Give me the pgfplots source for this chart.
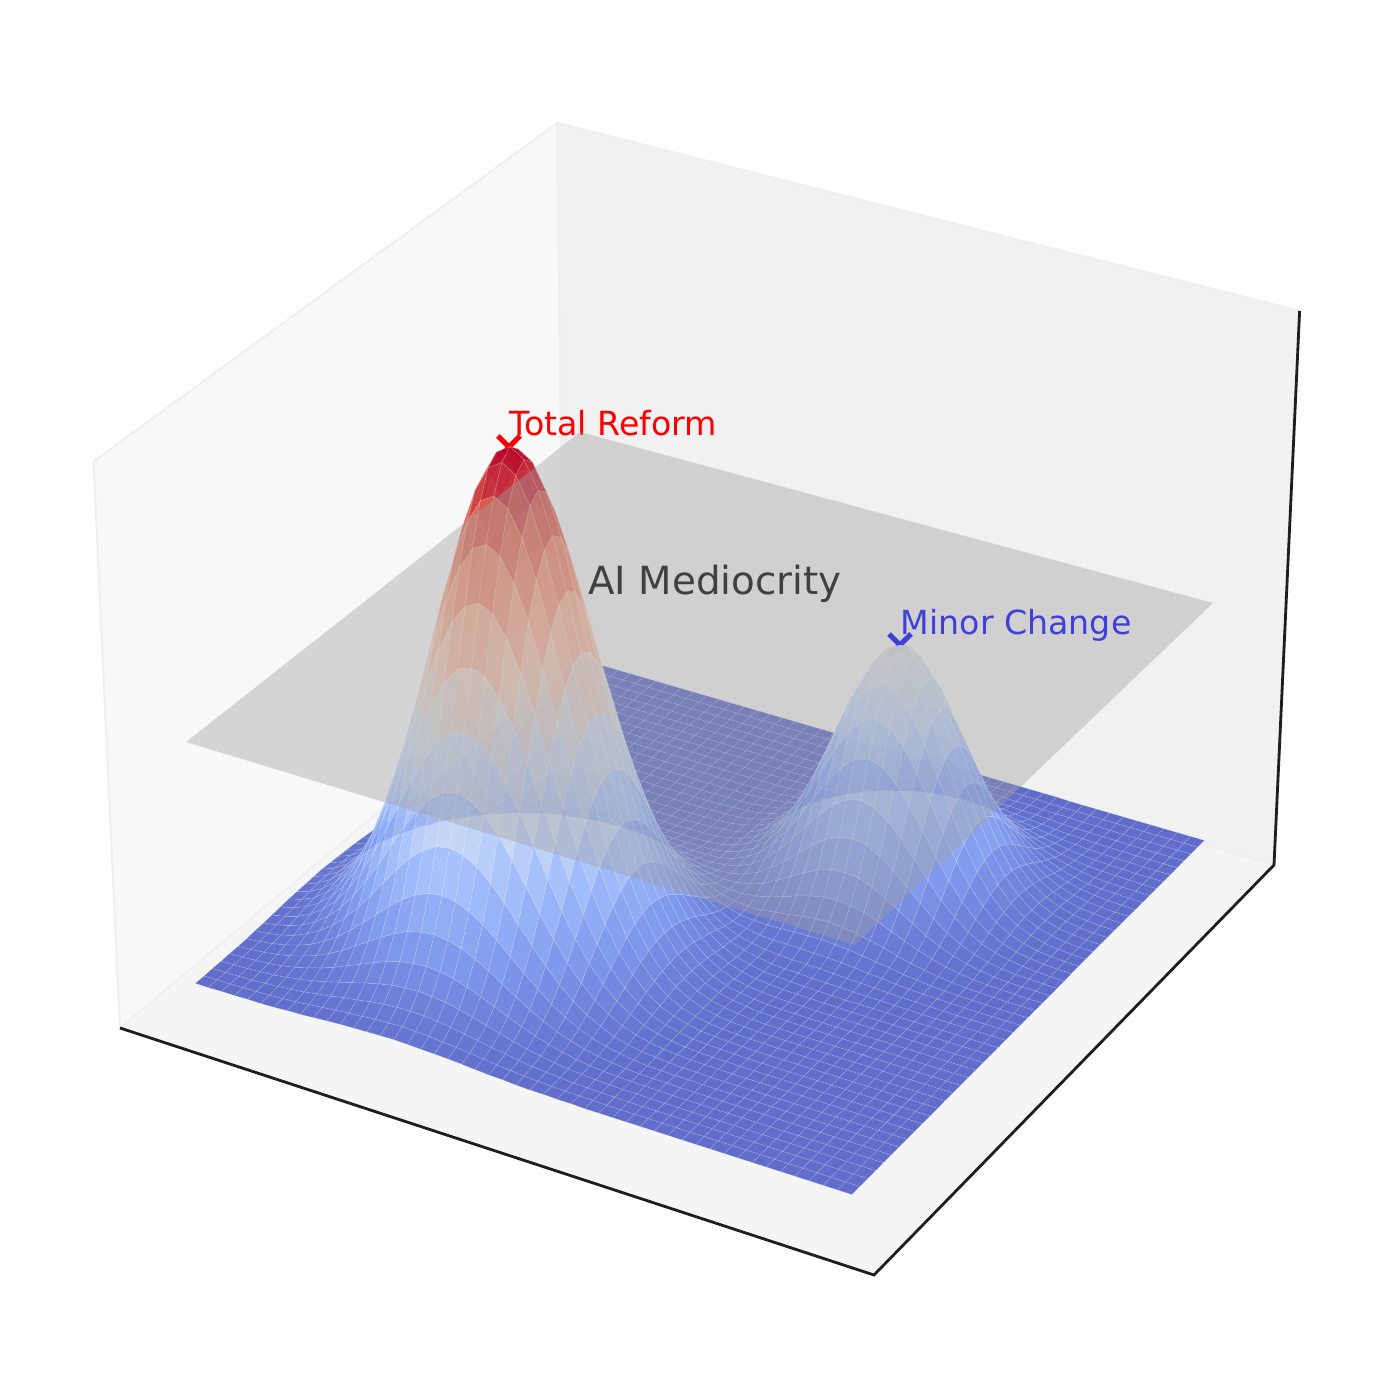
\documentclass[border=0pt]{standalone}
\usepackage{pgfplots}
\usepackage{fontspec}
\setmainfont{DejaVu Sans}
\pgfplotsset{compat=1.18}
\definecolor{paneL}{RGB}{248,248,248}
\definecolor{paneB}{RGB}{241,241,241}
\definecolor{paneF}{RGB}{245,245,245}
\definecolor{paneE}{RGB}{239,239,239}
\definecolor{axk}{RGB}{30,30,30}
\definecolor{plg}{RGB}{160,160,160}
\definecolor{bgc}{RGB}{254,254,254}
\begin{document}
\begin{tikzpicture}
\begin{axis}[
 scale only axis, width=689.5pt, height=690pt,
 xmin=0, xmax=1379, ymin=0, ymax=1380,
 axis line style={draw=none}, ticks=none, clip=false,
 colormap={cw}{rgb255=(59,76,192) rgb255=(98,130,234) rgb255=(141,176,254) rgb255=(192,212,245) rgb255=(221,221,221) rgb255=(245,196,173) rgb255=(244,154,123) rgb255=(222,96,77) rgb255=(180,4,38)},
 point meta min=0, point meta max=0.98,
 declare function={
  bx(\i)=.5193*(\i-24)/24;
  bz(\z)=.3893*(2*\z-1);
  dn(\a,\b,\c)=10-(.433*\a-.75*\b+.5*\c);
  px(\a,\b,\c)=708+7250*(.866*\a+.5*\b)/dn(\a,\b,\c);
  py(\a,\b,\c)=1380-(671-7250*(-.25*\a+.433*\b+.866*\c)/dn(\a,\b,\c));
 },
]
\addplot[draw=none,fill=bgc] coordinates {(0,0)(1379,0)(1379,1380)(0,1380)} -- cycle;
% panes (image pixel coordinates, y measured upward)
\addplot[fill=paneL,draw=paneE,line width=1pt] coordinates {(120,352)(563.5,722)(557.3,1257)(93.5,918.5)} -- cycle;
\addplot[fill=paneB,draw=paneE,line width=1pt] coordinates {(563.5,722)(1274,515)(1299.6,1069)(557.3,1257)} -- cycle;
\addplot[fill=paneF,draw=paneE,line width=1pt] coordinates {(120,352)(874,105)(1274,515)(563.5,722)} -- cycle;
\addplot[draw=axk,line width=1.4pt] coordinates {(120,352)(874,105)(1274,515)(1299.6,1069)};
% crosses and labels, under the surface
\addplot[red,line width=2.6pt] coordinates {(498,922)(520,944)};
\addplot[red,line width=2.6pt] coordinates {(498,944)(520,922)};
\addplot[blue,line width=2.6pt] coordinates {(889,724)(911,746)};
\addplot[blue,line width=2.6pt] coordinates {(889,746)(911,724)};
\addplot[draw=none] coordinates {(509,944)} node[anchor=base west,inner sep=0pt,text=red,font=\fontsize{16.6}{18}\selectfont]{Total Reform};
\addplot[draw=none] coordinates {(900.5,745)} node[anchor=base west,inner sep=0pt,text=blue,font=\fontsize{16.6}{18}\selectfont]{Minor Change};
\addplot[draw=none] coordinates {(588,785)} node[anchor=base west,inner sep=0pt,text=black,font=\fontsize{19.4}{21}\selectfont]{AI Mediocrity};
% surface: heights in thousandths; 49 rows from the back (y max) to the front, each written as 7 lines of 7 values, x from min to max
\addplot[surf,shader=faceted,faceted color=white,line width=.3pt,mesh/rows=49,mesh/cols=49,fill opacity=.8,draw opacity=.22,point meta=explicit]
 table[row sep=\\,header=false,
  x expr={px(bx(mod(\coordindex,49)),bx(48-floor((\coordindex+.5)/49)),bz(\thisrowno{0}/1000))},
  y expr={py(bx(mod(\coordindex,49)),bx(48-floor((\coordindex+.5)/49)),bz(\thisrowno{0}/1000))},
  meta expr={\thisrowno{0}/1000}] {
0\\0\\0\\0\\0\\0\\0\\
0\\0\\0\\0\\0\\0\\0\\
0\\0\\0\\0\\0\\0\\0\\
0\\0\\0\\0\\0\\0\\0\\
0\\1\\1\\1\\1\\1\\1\\
1\\1\\1\\0\\0\\0\\0\\
0\\0\\0\\0\\0\\0\\0\\
0\\0\\0\\0\\0\\0\\0\\
0\\0\\0\\0\\0\\0\\0\\
0\\0\\0\\0\\0\\0\\0\\
0\\0\\0\\0\\0\\1\\1\\
1\\1\\2\\2\\2\\2\\2\\
2\\2\\1\\1\\1\\1\\0\\
0\\0\\0\\0\\0\\0\\0\\
0\\0\\0\\0\\0\\0\\0\\
0\\0\\0\\0\\0\\0\\0\\
0\\0\\0\\0\\0\\0\\0\\
0\\0\\0\\0\\1\\1\\2\\
2\\3\\4\\4\\4\\5\\4\\
4\\4\\3\\2\\2\\1\\1\\
0\\0\\0\\0\\0\\0\\0\\
0\\0\\0\\0\\0\\0\\0\\
0\\0\\0\\0\\0\\0\\0\\
0\\0\\0\\0\\0\\0\\0\\
0\\0\\1\\1\\2\\2\\3\\
5\\6\\7\\8\\9\\9\\9\\
8\\7\\6\\5\\3\\2\\2\\
1\\1\\0\\0\\0\\0\\0\\
0\\0\\0\\0\\0\\0\\0\\
0\\0\\0\\0\\0\\0\\0\\
0\\0\\0\\0\\0\\0\\0\\
0\\1\\1\\2\\3\\4\\6\\
9\\11\\14\\16\\17\\17\\17\\
16\\14\\11\\9\\6\\4\\3\\
2\\1\\1\\0\\0\\0\\0\\
0\\0\\0\\0\\0\\0\\0\\
0\\0\\0\\0\\0\\0\\0\\
0\\0\\0\\0\\0\\0\\0\\
1\\1\\2\\3\\5\\8\\11\\
16\\20\\24\\28\\30\\31\\30\\
28\\24\\20\\16\\11\\8\\5\\
3\\2\\1\\1\\0\\0\\0\\
0\\0\\0\\0\\0\\0\\0\\
0\\0\\0\\0\\0\\0\\0\\
0\\0\\0\\0\\0\\0\\0\\
1\\2\\3\\6\\9\\14\\19\\
26\\34\\41\\47\\51\\53\\51\\
47\\41\\34\\26\\19\\14\\9\\
6\\3\\2\\1\\0\\0\\0\\
0\\0\\0\\0\\0\\0\\0\\
0\\0\\0\\0\\0\\0\\0\\
0\\0\\0\\0\\0\\0\\1\\
2\\3\\5\\9\\14\\22\\31\\
42\\54\\66\\76\\82\\85\\82\\
76\\66\\54\\42\\31\\22\\14\\
9\\5\\3\\2\\1\\0\\0\\
0\\0\\0\\0\\0\\0\\0\\
0\\0\\0\\0\\0\\0\\0\\
0\\0\\0\\0\\0\\1\\1\\
2\\4\\8\\14\\22\\33\\47\\
64\\82\\100\\115\\125\\128\\125\\
115\\100\\82\\64\\47\\33\\22\\
14\\8\\4\\2\\1\\1\\0\\
0\\0\\0\\0\\0\\0\\0\\
0\\0\\0\\0\\0\\0\\0\\
0\\0\\0\\0\\0\\1\\2\\
3\\6\\11\\19\\31\\47\\68\\
92\\118\\143\\165\\179\\184\\179\\
165\\143\\118\\92\\68\\47\\31\\
19\\11\\6\\3\\2\\1\\0\\
0\\0\\0\\0\\0\\0\\0\\
0\\0\\0\\0\\0\\0\\0\\
0\\0\\0\\0\\0\\1\\2\\
5\\9\\16\\26\\42\\64\\92\\
125\\160\\194\\223\\243\\250\\243\\
223\\194\\160\\125\\92\\64\\42\\
26\\16\\9\\5\\2\\1\\0\\
0\\0\\0\\0\\0\\0\\0\\
0\\0\\0\\0\\0\\0\\0\\
0\\0\\0\\0\\1\\1\\3\\
6\\11\\20\\34\\54\\82\\118\\
160\\206\\250\\287\\312\\321\\312\\
287\\250\\206\\160\\118\\82\\54\\
34\\20\\11\\6\\3\\1\\1\\
0\\0\\0\\0\\0\\0\\0\\
0\\0\\0\\0\\0\\0\\0\\
0\\0\\0\\0\\1\\2\\4\\
7\\14\\24\\41\\66\\100\\143\\
194\\250\\303\\348\\379\\389\\379\\
348\\303\\250\\194\\143\\100\\66\\
41\\24\\14\\7\\4\\2\\1\\
0\\0\\0\\0\\0\\0\\0\\
0\\0\\0\\0\\0\\1\\1\\
1\\1\\1\\1\\2\\2\\4\\
8\\16\\28\\47\\76\\115\\165\\
223\\287\\348\\400\\435\\447\\435\\
400\\348\\287\\223\\165\\115\\76\\
47\\28\\16\\8\\4\\2\\1\\
0\\0\\0\\0\\0\\0\\0\\
0\\1\\1\\1\\1\\1\\1\\
1\\1\\1\\1\\2\\3\\5\\
10\\18\\30\\51\\82\\125\\179\\
243\\312\\379\\435\\473\\486\\473\\
435\\379\\312\\243\\179\\125\\82\\
51\\30\\17\\9\\4\\2\\1\\
0\\0\\0\\0\\0\\0\\1\\
1\\1\\1\\2\\2\\2\\2\\
2\\2\\2\\2\\3\\4\\7\\
10\\18\\32\\54\\85\\128\\184\\
250\\321\\389\\447\\486\\500\\486\\
447\\389\\321\\250\\184\\128\\85\\
53\\31\\17\\9\\5\\2\\1\\
0\\0\\0\\0\\1\\1\\1\\
1\\2\\2\\3\\4\\4\\4\\
5\\5\\5\\4\\5\\6\\7\\
11\\19\\31\\52\\83\\126\\179\\
243\\312\\379\\435\\473\\486\\473\\
435\\379\\312\\243\\179\\125\\82\\
51\\30\\17\\9\\4\\2\\1\\
0\\0\\0\\1\\1\\1\\2\\
3\\4\\4\\5\\6\\7\\8\\
9\\9\\9\\8\\8\\8\\9\\
12\\20\\31\\49\\77\\116\\166\\
223\\287\\348\\400\\435\\447\\435\\
400\\348\\287\\223\\165\\115\\76\\
47\\28\\16\\8\\4\\2\\1\\
0\\0\\1\\1\\2\\2\\3\\
5\\6\\8\\10\\12\\13\\14\\
15\\16\\15\\14\\14\\14\\14\\
15\\20\\29\\44\\68\\102\\144\\
195\\250\\303\\348\\379\\389\\379\\
348\\303\\250\\194\\143\\100\\66\\
41\\24\\14\\7\\4\\2\\1\\
0\\1\\1\\2\\3\\4\\6\\
8\\11\\14\\17\\20\\22\\25\\
26\\27\\26\\25\\23\\21\\20\\
20\\22\\28\\40\\58\\85\\120\\
161\\207\\250\\287\\312\\321\\312\\
287\\250\\206\\160\\118\\82\\54\\
34\\20\\11\\6\\3\\1\\1\\
1\\1\\2\\3\\5\\7\\10\\
13\\18\\22\\28\\32\\37\\41\\
43\\44\\43\\41\\37\\33\\30\\
27\\27\\29\\36\\49\\69\\95\\
127\\161\\195\\223\\243\\250\\243\\
223\\194\\160\\125\\92\\64\\42\\
26\\16\\9\\5\\2\\1\\0\\
1\\2\\3\\5\\7\\11\\16\\
21\\28\\36\\44\\52\\59\\65\\
68\\70\\68\\65\\59\\53\\46\\
39\\34\\32\\35\\42\\54\\73\\
95\\120\\144\\166\\179\\184\\179\\
165\\143\\118\\92\\68\\47\\31\\
19\\11\\6\\3\\2\\1\\0\\
2\\3\\5\\7\\11\\17\\24\\
33\\43\\55\\67\\79\\90\\99\\
104\\106\\104\\99\\90\\80\\68\\
57\\47\\41\\38\\39\\44\\54\\
69\\85\\102\\116\\126\\128\\125\\
115\\100\\82\\64\\47\\33\\22\\
14\\8\\4\\2\\1\\1\\0\\
2\\4\\7\\11\\17\\25\\35\\
48\\63\\81\\99\\117\\133\\146\\
154\\157\\154\\146\\133\\117\\100\\
83\\66\\53\\44\\39\\39\\42\\
49\\58\\68\\77\\83\\85\\82\\
76\\66\\54\\42\\31\\22\\14\\
9\\5\\3\\2\\1\\0\\0\\
3\\6\\10\\16\\24\\35\\50\\
68\\90\\115\\140\\166\\189\\207\\
219\\223\\219\\207\\189\\166\\140\\
116\\92\\71\\56\\44\\38\\35\\
36\\40\\44\\49\\52\\54\\51\\
47\\41\\34\\26\\19\\14\\9\\
6\\3\\2\\1\\0\\0\\0\\
5\\8\\13\\21\\33\\48\\68\\
93\\123\\157\\192\\227\\259\\284\\
300\\306\\300\\284\\259\\227\\192\\
158\\124\\95\\71\\53\\41\\32\\
29\\28\\29\\31\\31\\32\\30\\
28\\24\\20\\16\\11\\8\\5\\
3\\2\\1\\1\\0\\0\\0\\
6\\11\\18\\28\\43\\63\\90\\
123\\163\\207\\254\\300\\342\\375\\
396\\404\\396\\375\\342\\300\\254\\
207\\164\\124\\92\\66\\47\\34\\
27\\22\\20\\20\\19\\18\\18\\
16\\14\\11\\9\\6\\4\\3\\
2\\1\\1\\0\\0\\0\\0\\
8\\14\\22\\36\\55\\81\\115\\
157\\207\\264\\323\\382\\435\\477\\
504\\513\\504\\477\\435\\382\\323\\
264\\207\\158\\116\\83\\57\\39\\
27\\20\\15\\12\\11\\10\\10\\
8\\7\\6\\5\\3\\2\\2\\
1\\1\\0\\0\\0\\0\\0\\
10\\17\\28\\44\\67\\99\\140\\
192\\254\\323\\396\\468\\533\\584\\
618\\629\\618\\584\\533\\468\\396\\
323\\254\\192\\140\\100\\68\\46\\
30\\20\\14\\9\\7\\7\\5\\
4\\4\\3\\2\\2\\1\\1\\
0\\0\\0\\0\\0\\0\\0\\
12\\20\\32\\52\\79\\117\\166\\
227\\300\\382\\468\\553\\629\\691\\
730\\744\\730\\691\\629\\553\\468\\
382\\300\\227\\166\\117\\80\\53\\
33\\21\\14\\8\\6\\4\\3\\
2\\2\\1\\1\\1\\1\\0\\
0\\0\\0\\0\\0\\0\\0\\
13\\22\\37\\59\\90\\133\\189\\
259\\342\\435\\533\\629\\717\\786\\
831\\847\\831\\786\\717\\629\\533\\
435\\342\\259\\189\\133\\90\\59\\
37\\23\\14\\8\\5\\3\\2\\
2\\1\\1\\0\\0\\0\\0\\
0\\0\\0\\0\\0\\0\\0\\
14\\25\\41\\65\\99\\146\\207\\
284\\375\\477\\584\\691\\786\\862\\
912\\929\\912\\862\\786\\691\\584\\
477\\375\\284\\207\\146\\99\\65\\
41\\25\\14\\8\\4\\2\\1\\
1\\0\\0\\0\\0\\0\\0\\
0\\0\\0\\0\\0\\0\\0\\
15\\26\\43\\68\\104\\154\\219\\
300\\396\\504\\618\\730\\831\\912\\
964\\982\\964\\912\\831\\730\\618\\
504\\396\\300\\219\\154\\104\\68\\
43\\26\\15\\9\\5\\2\\1\\
1\\0\\0\\0\\0\\0\\0\\
0\\0\\0\\0\\0\\0\\0\\
16\\27\\44\\70\\106\\157\\223\\
306\\404\\513\\629\\744\\847\\929\\
982\\1000\\982\\929\\847\\744\\629\\
513\\404\\306\\223\\157\\106\\70\\
44\\27\\16\\9\\5\\2\\1\\
1\\0\\0\\0\\0\\0\\0\\
0\\0\\0\\0\\0\\0\\0\\
15\\26\\43\\68\\104\\154\\219\\
300\\396\\504\\618\\730\\831\\912\\
964\\982\\964\\912\\831\\730\\618\\
504\\396\\300\\219\\154\\104\\68\\
43\\26\\15\\9\\5\\2\\1\\
1\\0\\0\\0\\0\\0\\0\\
0\\0\\0\\0\\0\\0\\0\\
14\\25\\41\\65\\99\\146\\207\\
284\\375\\477\\584\\691\\786\\862\\
912\\929\\912\\862\\786\\691\\584\\
477\\375\\284\\207\\146\\99\\65\\
41\\25\\14\\8\\4\\2\\1\\
1\\0\\0\\0\\0\\0\\0\\
0\\0\\0\\0\\0\\0\\0\\
13\\22\\37\\59\\90\\133\\189\\
259\\342\\435\\533\\629\\717\\786\\
831\\847\\831\\786\\717\\629\\533\\
435\\342\\259\\189\\133\\90\\59\\
37\\22\\13\\7\\4\\2\\1\\
1\\0\\0\\0\\0\\0\\0\\
0\\0\\0\\0\\0\\0\\0\\
12\\20\\32\\52\\79\\117\\166\\
227\\300\\382\\468\\553\\629\\691\\
730\\744\\730\\691\\629\\553\\468\\
382\\300\\227\\166\\117\\79\\52\\
32\\20\\12\\6\\4\\2\\1\\
0\\0\\0\\0\\0\\0\\0\\
0\\0\\0\\0\\0\\0\\0\\
10\\17\\28\\44\\67\\99\\140\\
192\\254\\323\\396\\468\\533\\584\\
618\\629\\618\\584\\533\\468\\396\\
323\\254\\192\\140\\99\\67\\44\\
28\\17\\10\\5\\3\\2\\1\\
0\\0\\0\\0\\0\\0\\0\\
0\\0\\0\\0\\0\\0\\0\\
8\\14\\22\\36\\55\\81\\115\\
157\\207\\264\\323\\382\\435\\477\\
504\\513\\504\\477\\435\\382\\323\\
264\\207\\157\\115\\81\\55\\36\\
22\\14\\8\\4\\2\\1\\1\\
0\\0\\0\\0\\0\\0\\0\\
0\\0\\0\\0\\0\\0\\0\\
6\\11\\18\\28\\43\\63\\90\\
123\\163\\207\\254\\300\\342\\375\\
396\\404\\396\\375\\342\\300\\254\\
207\\163\\123\\90\\63\\43\\28\\
18\\11\\6\\4\\2\\1\\1\\
0\\0\\0\\0\\0\\0\\0\\
0\\0\\0\\0\\0\\0\\0\\
5\\8\\13\\21\\33\\48\\68\\
93\\123\\157\\192\\227\\259\\284\\
300\\306\\300\\284\\259\\227\\192\\
157\\123\\93\\68\\48\\33\\21\\
13\\8\\5\\3\\1\\1\\0\\
0\\0\\0\\0\\0\\0\\0\\
0\\0\\0\\0\\0\\0\\0\\
3\\6\\10\\16\\24\\35\\50\\
68\\90\\115\\140\\166\\189\\207\\
219\\223\\219\\207\\189\\166\\140\\
115\\90\\68\\50\\35\\24\\16\\
10\\6\\3\\2\\1\\1\\0\\
0\\0\\0\\0\\0\\0\\0\\
0\\0\\0\\0\\0\\0\\0\\
2\\4\\7\\11\\17\\25\\35\\
48\\63\\81\\99\\117\\133\\146\\
154\\157\\154\\146\\133\\117\\99\\
81\\63\\48\\35\\25\\17\\11\\
7\\4\\2\\1\\1\\0\\0\\
0\\0\\0\\0\\0\\0\\0\\
0\\0\\0\\0\\0\\0\\0\\
2\\3\\5\\7\\11\\17\\24\\
33\\43\\55\\67\\79\\90\\99\\
104\\106\\104\\99\\90\\79\\67\\
55\\43\\33\\24\\17\\11\\7\\
5\\3\\2\\1\\1\\0\\0\\
0\\0\\0\\0\\0\\0\\0\\
0\\0\\0\\0\\0\\0\\0\\
1\\2\\3\\5\\7\\11\\16\\
21\\28\\36\\44\\52\\59\\65\\
68\\70\\68\\65\\59\\52\\44\\
36\\28\\21\\16\\11\\7\\5\\
3\\2\\1\\1\\0\\0\\0\\
0\\0\\0\\0\\0\\0\\0\\
0\\0\\0\\0\\0\\0\\0\\
1\\1\\2\\3\\5\\7\\10\\
13\\18\\22\\28\\32\\37\\41\\
43\\44\\43\\41\\37\\32\\28\\
22\\18\\13\\10\\7\\5\\3\\
2\\1\\1\\0\\0\\0\\0\\
0\\0\\0\\0\\0\\0\\0\\
0\\0\\0\\0\\0\\0\\0\\
0\\1\\1\\2\\3\\4\\6\\
8\\11\\14\\17\\20\\22\\25\\
26\\27\\26\\25\\22\\20\\17\\
14\\11\\8\\6\\4\\3\\2\\
1\\1\\0\\0\\0\\0\\0\\
0\\0\\0\\0\\0\\0\\0\\
0\\0\\0\\0\\0\\0\\0\\
0\\0\\1\\1\\2\\2\\3\\
5\\6\\8\\10\\12\\13\\14\\
15\\16\\15\\14\\13\\12\\10\\
8\\6\\5\\3\\2\\2\\1\\
1\\0\\0\\0\\0\\0\\0\\
0\\0\\0\\0\\0\\0\\0\\
0\\0\\0\\0\\0\\0\\0\\
};
% grey plane at height 0.5, over everything
\addplot[draw=none,fill=plg,fill opacity=.4] coordinates {(186,638)(580,948)(1213,777)(855,435)} -- cycle;
\end{axis}
\end{tikzpicture}
\end{document}
